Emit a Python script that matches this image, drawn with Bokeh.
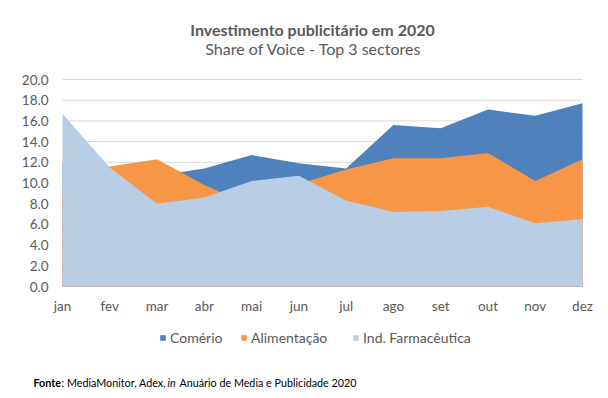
from bokeh.plotting import figure
from bokeh.models import Range1d, Label, Legend, LegendItem
from bokeh.core.properties import value
from bokeh.embed import file_html
from bokeh.resources import INLINE

months = ["jan", "fev", "mar", "abr", "mai", "jun", "jul", "ago", "set", "out", "nov", "dez"]
comercio = [12.0, 10.5, 10.7, 11.4, 12.7, 11.9, 11.4, 15.6, 15.3, 17.1, 16.5, 17.7]
alimentacao = [10.0, 11.6, 12.3, 9.8, 7.8, 9.9, 11.3, 12.4, 12.4, 12.9, 10.2, 12.3]
farmaceutica = [16.7, 11.5, 8.0, 8.6, 10.2, 10.7, 8.3, 7.2, 7.3, 7.7, 6.1, 6.5]
y_ticks = [0, 2, 4, 6, 8, 10, 12, 14, 16, 18, 20]
series_names = ["Comério", "Alimentação", "Ind. Farmacêutica"]

FONT = "Lato"
TXT = "#595959"
W, H = 608, 398
# plot-area placement on the canvas (pixels)
PL, PR, PT, PB = 62, 582, 79, 286

idx = list(range(len(months)))
n = len(months) - 1
ymax = y_ticks[-1]
xs = (PR - PL) / n
ys = (PB - PT) / ymax

p = figure(width=W, height=H, output_backend="svg", toolbar_location=None,
           x_axis_type=None, y_axis_type=None, min_border=0,
           x_range=Range1d(-PL / xs, n + (W - PR) / xs),
           y_range=Range1d(-(H - PB) / ys, ymax + PT / ys))
p.outline_line_color = None
p.xgrid.visible = False
p.ygrid.visible = False

# gridlines
p.segment(x0=[0] * len(y_ticks), y0=y_ticks, x1=[n] * len(y_ticks), y1=y_ticks,
          line_color="#D9D9D9", line_width=1)

r1 = p.varea(x=idx, y1=0, y2=comercio, fill_color="#4F81BD")
r2 = p.varea(x=idx, y1=0, y2=alimentacao, fill_color="#F79646")
r3 = p.varea(x=idx, y1=0, y2=farmaceutica, fill_color="#B9CDE5")

# y tick labels
p.text(x=[0] * len(y_ticks), y=y_ticks, text=[f"{v:.1f}" for v in y_ticks],
       x_offset=-14, text_align="right", text_baseline="middle",
       text_font=value(FONT), text_font_size="13.5px", text_color=TXT)
# month labels
p.text(x=idx, y=[0] * len(idx), text=months, y_offset=19,
       text_align="center", text_baseline="middle",
       text_font=value(FONT), text_font_size="13.5px", text_color=TXT)

# titles
p.add_layout(Label(x=312, y=H - 29, x_units="screen", y_units="screen",
                   text="Investimento publicitário em 2020", text_font=FONT,
                   text_font_style="bold", text_font_size="16px", text_color=TXT,
                   text_align="center", text_baseline="middle"))
p.add_layout(Label(x=313, y=H - 48, x_units="screen", y_units="screen",
                   text="Share of Voice - Top 3 sectores", text_font=FONT,
                   text_font_size="16px", text_color=TXT,
                   text_align="center", text_baseline="middle"))

# legend: one entry per series at the reference positions
for name, r, lx in zip(series_names, [r1, r2, r3], [159, 240, 352]):
    lg = Legend(items=[LegendItem(label=name, renderers=[r])],
                orientation="horizontal", location=(lx, H - 346),
                glyph_width=7, glyph_height=7, label_standoff=4,
                padding=0, margin=0, border_line_alpha=0, background_fill_alpha=0,
                label_text_font=FONT, label_text_font_size="14px", label_text_color=TXT)
    p.add_layout(lg)

segments = [("Fonte", "bold", 33), (": MediaMonitor, Adex,", "normal", 61),
            ("in", "italic", 167), ("Anuário de Media e Publicidade 2020", "normal", 179)]
for t, style, px in segments:
    p.add_layout(Label(x=px, y=H - 382, x_units="screen", y_units="screen",
                       text=t, text_font=FONT, text_font_style=style,
                       text_font_size="10.75px", text_color="#000000",
                       text_align="left", text_baseline="middle"))

open("out.html", "w").write(file_html(p, INLINE))
